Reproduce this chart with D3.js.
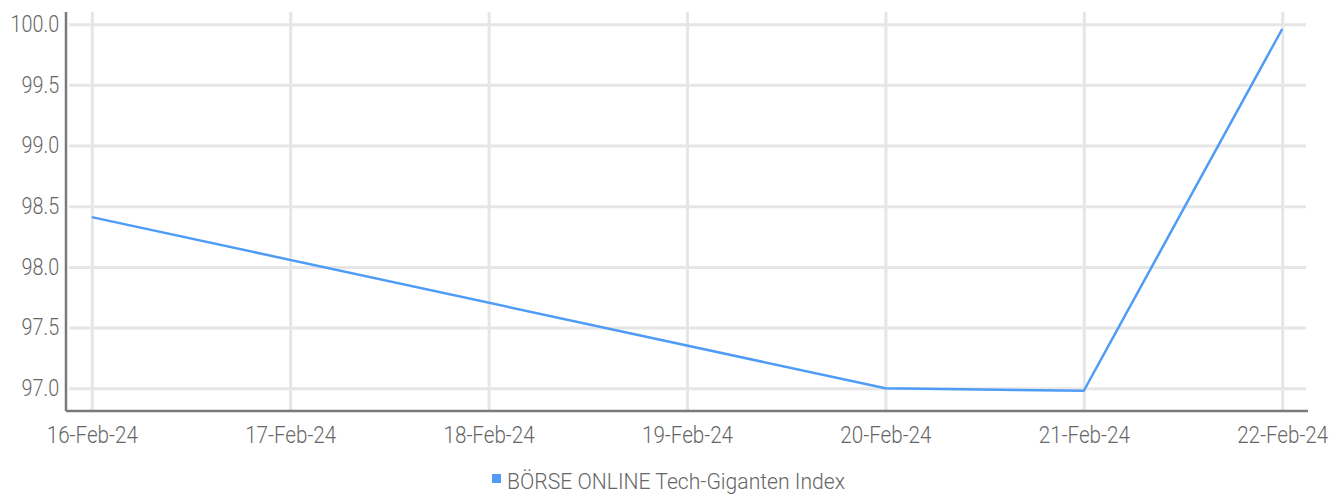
<html>
  <body style="margin:0;background:#fff">
    <style>
      .grid line {
        stroke: #e6e6e6;
        stroke-width: 3;
      }
      .grid path {
        stroke-width: 0;
      }
      .axis path {
        stroke: #7a7a7a;
        stroke-width: 2.5;
      }
      .axis line {
        stroke-width: 0;
      }
      .axis text, .legend text {
        font-family: Roboto, sans-serif;
        font-weight: 300;
        fill: #666666;
      }
    </style>
    <div id="chart"></div>
    <script src="https://d3js.org/d3.v7.min.js"></script>
    <script type="text/javascript">
      // x categories (tick labels)
      var dates = ["16-Feb-24", "17-Feb-24", "18-Feb-24", "19-Feb-24", "20-Feb-24", "21-Feb-24", "22-Feb-24"];
      // series points
      var seriesDates = ["16-Feb-24", "20-Feb-24", "21-Feb-24", "22-Feb-24"];
      var seriesValues = [98.41, 97.00, 96.98, 99.96];
      var yTicks = [97.0, 97.5, 98.0, 98.5, 99.0, 99.5, 100.0];
      var seriesName = "BÖRSE ONLINE Tech-Giganten Index";

      var W = 1341, H = 496;
      var plotLeft = 66, plotRight = 1308, plotTop = 12, plotBottom = 411;

      var svg = d3.select("#chart").append("svg")
        .attr("width", W)
        .attr("height", H);

      var x = d3.scalePoint()
        .domain(dates)
        .range([plotLeft, plotRight])
        .padding(0.13);

      var y = d3.scaleLinear()
        .domain([96.813, 100.1])
        .range([plotBottom, plotTop]);

      // vertical gridlines
      svg.append("g")
        .attr("class", "grid")
        .attr("transform", "translate(0," + plotBottom + ")")
        .call(d3.axisBottom(x)
          .tickSize(-(plotBottom - plotTop))
          .tickFormat("")
        );

      // horizontal gridlines
      svg.append("g")
        .attr("class", "grid")
        .attr("transform", "translate(" + plotLeft + ",0)")
        .call(d3.axisLeft(y)
          .tickValues(yTicks)
          .tickSize(-(plotRight - 2 - plotLeft))
          .tickFormat("")
        )
        .selectAll("line").attr("x1", 3);

      var line = d3.line()
        .x(function(d) { return x(d.date); })
        .y(function(d) { return y(d.value); });

      var data = seriesDates.map(function(d, i) { return {date: d, value: seriesValues[i]}; });

      svg.append("path")
        .datum(data)
        .attr("fill", "none")
        .attr("stroke", "#4f9cf7")
        .attr("stroke-width", 2.5)
        .attr("stroke-linejoin", "round")
        .attr("d", line);

      // axes
      var gx = svg.append("g")
        .attr("class", "axis")
        .attr("transform", "translate(0," + plotBottom + ")")
        .call(d3.axisBottom(x).tickSizeInner(0).tickSizeOuter(0).tickPadding(15));
      gx.select(".domain").attr("d", "M" + plotLeft + ",0H" + plotRight);
      gx.selectAll("text")
        .style("font-size", "24px")
        .attr("transform", "scale(0.86,1)");

      var gy = svg.append("g")
        .attr("class", "axis")
        .attr("transform", "translate(" + plotLeft + ",0)")
        .call(d3.axisLeft(y)
          .tickValues(yTicks)
          .tickSizeInner(0)
          .tickSizeOuter(0)
          .tickPadding(8)
          .tickFormat(d3.format(".1f"))
        );
      gy.select(".domain").attr("d", "M0," + plotTop + "V" + plotBottom);
      gy.selectAll("text")
        .style("font-size", "23px")
        .attr("transform", "scale(0.86,1)");

      // legend
      var legend = svg.append("g")
        .attr("class", "legend")
        .attr("transform", "translate(492,474)");
      legend.append("rect")
        .attr("width", 9)
        .attr("height", 9)
        .attr("fill", "#4f9cf7");
      legend.append("text")
        .attr("x", 15)
        .attr("y", 15)
        .style("font-size", "22px")
        .attr("textLength", 338)
        .attr("lengthAdjust", "spacingAndGlyphs")
        .text(seriesName);
    </script>
  </body>
</html>
